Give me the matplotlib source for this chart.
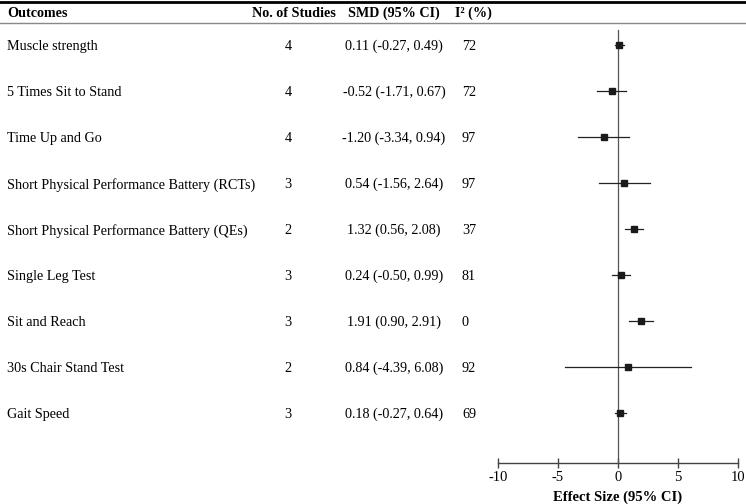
import matplotlib.pyplot as plt
from matplotlib.transforms import blended_transform_factory

outcomes = ['Muscle strength', '5 Times Sit to Stand', 'Time Up and Go',
            'Short Physical Performance Battery (RCTs)',
            'Short Physical Performance Battery (QEs)',
            'Single Leg Test', 'Sit and Reach', '30s Chair Stand Test', 'Gait Speed']
n_studies = [4, 4, 4, 3, 2, 3, 3, 2, 3]
smd = [0.11, -0.52, -1.20, 0.54, 1.32, 0.24, 1.91, 0.84, 0.18]
ci_low = [-0.27, -1.71, -3.34, -1.56, 0.56, -0.50, 0.90, -4.39, -0.27]
ci_high = [0.49, 0.67, 0.94, 2.64, 2.08, 0.99, 2.91, 6.08, 0.64]
i2 = [72, 72, 97, 97, 37, 81, 0, 92, 69]
xticks = [-10, -5, 0, 5, 10]

plt.rcParams['font.family'] = ['Liberation Serif', 'DejaVu Serif']
plt.rcParams['axes.unicode_minus'] = False
W, H = 746, 504
fig = plt.figure(figsize=(W / 100, H / 100), dpi=100)

# forest axes: x from 498 to 738 px, bottom at 463 px
ax = fig.add_axes([498 / W, 1 - 463 / H, 240 / W, 463 / H])
ax.set_xlim(-10, 10)
ax.set_ylim(463, 0)
for s in ['top', 'right', 'left']:
    ax.spines[s].set_visible(False)
ax.spines['bottom'].set_color('#444444')
ax.spines['bottom'].set_linewidth(1.0)
ax.set_yticks([])
ax.set_xticks(xticks)
ax.tick_params(axis='x', direction='inout', length=7, width=1, color='#444444',
               labelsize=10.5, pad=2)
fig.text(618 / W, 1 - 497 / H, 'Effect Size (95% CI)', fontsize=10.5,
         fontweight='bold', ha='center', va='center')

ys = [45 + 46 * i for i in range(len(outcomes))]
ax.plot([0, 0], [30, 463], color='#555555', lw=0.9)
for y, m, lo, hi in zip(ys, smd, ci_low, ci_high):
    ax.plot([lo, hi], [y, y], color='#222222', lw=0.9)
ax.plot(smd, ys, 's', color='#1a1a1a', markersize=5)

tr = blended_transform_factory(fig.transFigure, ax.transData)
fs = 10.2
va = 'center_baseline'
ax.text(7 / W, 12, 'Outcomes', transform=tr, fontsize=fs, fontweight='bold', va=va)
ax.text(294 / W, 12, 'No. of Studies', transform=tr, fontsize=fs, fontweight='bold',
        va=va, ha='center')
ax.text(394 / W, 12, 'SMD (95% CI)', transform=tr, fontsize=fs, fontweight='bold',
        va=va, ha='center')
ax.text(455 / W, 12, 'I² (%)', transform=tr, fontsize=fs, fontweight='bold', va=va)

for y, name, n, m, lo, hi, v in zip(ys, outcomes, n_studies, smd, ci_low, ci_high, i2):
    ax.text(7 / W, y, name, transform=tr, fontsize=fs, va=va)
    ax.text(288 / W, y, str(n), transform=tr, fontsize=fs, va=va, ha='center')
    ax.text(394 / W, y, f'{m:.2f} ({lo:.2f}, {hi:.2f})', transform=tr, fontsize=fs,
            va=va, ha='center')
    ax.text(462 / W, y, str(v), transform=tr, fontsize=fs, va=va)

# header rules
fig.add_artist(plt.Line2D([0, 1], [1 - 1.5 / H, 1 - 1.5 / H], color='black', lw=2))
fig.add_artist(plt.Line2D([0, 1], [1 - 23 / H, 1 - 23 / H], color='#888888', lw=1))

fig.savefig('out.png', dpi=100)
